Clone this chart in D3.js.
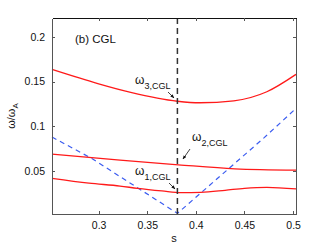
<!DOCTYPE html>
<html lang="en">
<head>
    <meta charset="UTF-8">
    <title>CGL frequencies</title>
    <script src="https://d3js.org/d3.v7.min.js"></script>
    <style>
        body { margin: 0; background: #fff; }
        svg text { font-family: "Liberation Sans", Arial, sans-serif; fill: #111; }
        .axis text { font-size: 10.5px; }
        .axis path, .axis line { fill: none; stroke: #555; shape-rendering: crispEdges; }
    </style>
</head>
<body>
    <svg id="chart" width="327" height="246"></svg>

    <script>
        // curves (s, omega/omega_A)
        var s1 = [0.252, 0.29, 0.322, 0.34, 0.365, 0.385, 0.405, 0.43, 0.45, 0.473, 0.503];
        var w1 = [0.0418, 0.0365, 0.0332, 0.0307, 0.0278, 0.0258, 0.0262, 0.0285, 0.0307, 0.0318, 0.030];

        var s2 = [0.252, 0.322, 0.382, 0.44, 0.503];
        var w2 = [0.069, 0.0623, 0.057, 0.0525, 0.051];

        var s3 = [0.252, 0.3, 0.333, 0.381, 0.404, 0.439, 0.473, 0.503];
        var w3 = [0.1636, 0.1475, 0.1379, 0.128, 0.1263, 0.1285, 0.1386, 0.158];

        // blue dashed V
        var sV = [0.252, 0.293, 0.381, 0.47, 0.503];
        var wV = [0.088, 0.064, 0.0027, 0.087, 0.12];

        var sMark = 0.381;

        var xTicks = [0.3, 0.35, 0.4, 0.45, 0.5];
        var xTickLabels = ["0.3", "0.35", "0.4", "0.45", "0.5"];
        var yTicks = [0.05, 0.1, 0.15, 0.2];
        var yTickLabels = ["0.05", "0.1", "0.15", "0.2"];

        var margin = { top: 18, right: 31, bottom: 32, left: 52 },
            width = 327 - margin.left - margin.right,
            height = 246 - margin.top - margin.bottom;

        var svg = d3.select("#chart")
            .append("g")
            .attr("transform", "translate(" + margin.left + "," + margin.top + ")");

        var x = d3.scaleLinear().domain([0.252, 0.503]).range([0, width]);
        var y = d3.scaleLinear().domain([0.002, 0.221]).range([height, 0]);

        var line = d3.line()
            .x(function (d) { return x(d[0]); })
            .y(function (d) { return y(d[1]); })
            .curve(d3.curveMonotoneX);

        var straight = d3.line()
            .x(function (d) { return x(d[0]); })
            .y(function (d) { return y(d[1]); });

        // arrow marker
        svg.append("defs").append("marker")
            .attr("id", "arr")
            .attr("viewBox", "0 0 10 10")
            .attr("refX", 9).attr("refY", 5)
            .attr("markerWidth", 5).attr("markerHeight", 5)
            .attr("orient", "auto")
            .append("path")
            .attr("d", "M0,1 L10,5 L0,9 Z")
            .attr("fill", "#111");

        // blue dashed line
        svg.append("path")
            .datum(d3.zip(sV, wV))
            .attr("d", straight)
            .attr("fill", "none")
            .attr("stroke", "#3b5cf0")
            .attr("stroke-width", 1.2)
            .attr("stroke-dasharray", "5,4");

        // red curves
        [[s1, w1], [s2, w2], [s3, w3]].forEach(function (c) {
            svg.append("path")
                .datum(d3.zip(c[0], c[1]))
                .attr("d", line)
                .attr("fill", "none")
                .attr("stroke", "#ff1a1a")
                .attr("stroke-width", 1.3);
        });

        // vertical dashed marker
        svg.append("line")
            .attr("x1", x(sMark)).attr("x2", x(sMark))
            .attr("y1", 0).attr("y2", height)
            .attr("stroke", "#333")
            .attr("stroke-width", 1.5)
            .attr("stroke-dasharray", "6,4");

        // axes, ticks pointing inward on every side
        svg.append("g")
            .attr("class", "axis")
            .attr("transform", "translate(0," + height + ")")
            .call(d3.axisBottom(x).tickValues(xTicks)
                .tickFormat(function (d, i) { return xTickLabels[i]; })
                .tickSizeInner(-3).tickSizeOuter(0).tickPadding(8));

        svg.append("g")
            .attr("class", "axis")
            .call(d3.axisLeft(y).tickValues(yTicks)
                .tickFormat(function (d, i) { return yTickLabels[i]; })
                .tickSizeInner(-3).tickSizeOuter(0).tickPadding(7));

        svg.append("g")
            .attr("class", "axis top")
            .call(d3.axisTop(x).tickValues(xTicks).tickFormat("")
                .tickSizeInner(-3).tickSizeOuter(0));

        svg.append("g")
            .attr("class", "axis")
            .attr("transform", "translate(" + width + ",0)")
            .call(d3.axisRight(y).tickValues(yTicks).tickFormat("")
                .tickSizeInner(-3).tickSizeOuter(0));

        svg.select(".top path").style("stroke", "#111");

        // axis titles
        svg.append("text")
            .attr("x", width / 2)
            .attr("y", height + 28)
            .attr("text-anchor", "middle")
            .style("font-size", "11px")
            .text("s");

        var yl = svg.append("text")
            .attr("transform", "translate(-37," + (height / 2) + ") rotate(-90)")
            .attr("text-anchor", "middle")
            .style("font-size", "11px");
        yl.append("tspan").text("ω/ω");
        yl.append("tspan").attr("dy", 3).style("font-size", "8px").text("A");

        // panel label
        svg.append("text")
            .attr("x", 23).attr("y", 25)
            .style("font-size", "11.5px")
            .text("(b) CGL");

        // curve labels with arrows
        var labels = [
            { n: "3", lx: 83, ly: 66, a: [116, 74, 122, 80] },
            { n: "2", lx: 140, ly: 123, a: [138, 131, 131, 141] },
            { n: "1", lx: 83, ly: 157, a: [117, 165, 123, 171] }
        ];
        labels.forEach(function (l) {
            var t = svg.append("text")
                .attr("x", l.lx).attr("y", l.ly)
                .style("font-size", "12px");
            t.append("tspan").text("ω");
            t.append("tspan").attr("dy", 5).style("font-size", "9px").text(l.n + ",CGL");
            svg.append("line")
                .attr("x1", l.a[0]).attr("y1", l.a[1])
                .attr("x2", l.a[2]).attr("y2", l.a[3])
                .attr("stroke", "#111")
                .attr("stroke-width", 0.8)
                .attr("marker-end", "url(#arr)");
        });
    </script>
</body>
</html>
